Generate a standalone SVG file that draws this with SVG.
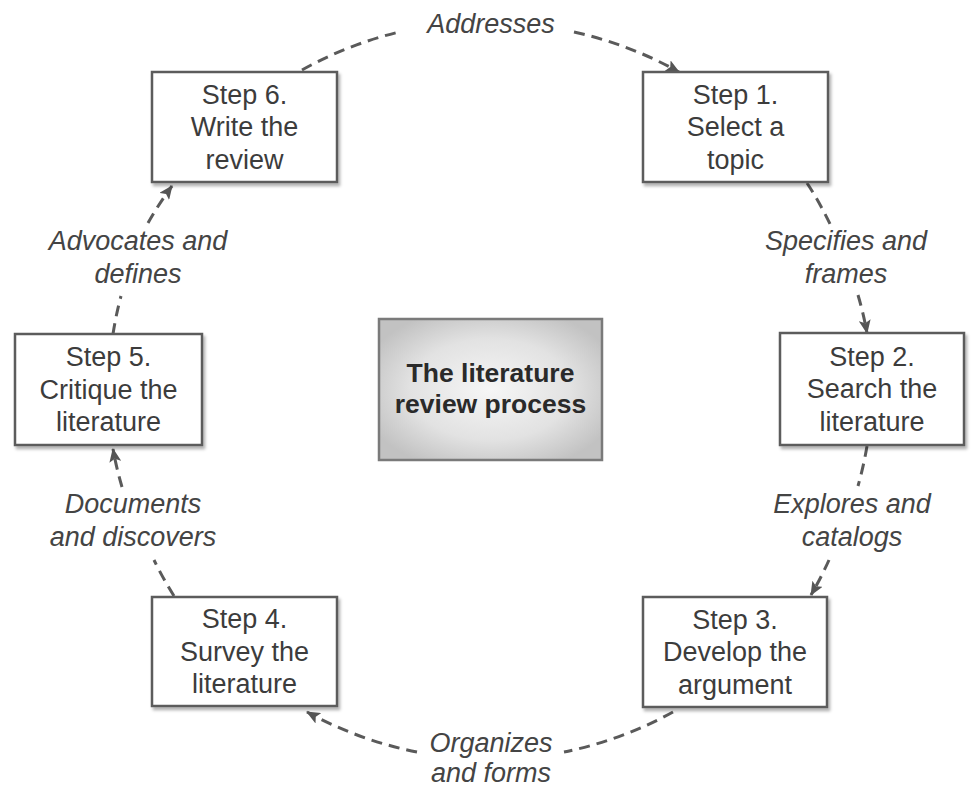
<svg xmlns="http://www.w3.org/2000/svg" width="974" height="787" viewBox="0 0 974 787">
  <style>
    .box { fill: #ffffff; stroke: #5c5c5c; stroke-width: 2.5; filter: url(#shadow); }
    .hub { fill: url(#hubFill); stroke: #7a7a7a; stroke-width: 2.5; }
    .step { font-family: "Liberation Sans", Arial, sans-serif; font-size: 27px; fill: #3c3c3c; text-anchor: middle; }
    .hubText { font-family: "Liberation Sans", Arial, sans-serif; font-size: 26.5px; font-weight: bold; fill: #2a2a2a; text-anchor: middle; }
    .label { font-family: "Liberation Sans", Arial, sans-serif; font-size: 27px; font-style: italic; fill: #444444; text-anchor: middle; }
    .link { fill: none; stroke: #5a5a5a; stroke-width: 3; stroke-dasharray: 11 7; }
    .head { marker-end: url(#arrow); }
  </style>
  <defs>
    <radialGradient id="hubFill" cx="50%" cy="50%" r="60%">
      <stop offset="0" stop-color="#f6f6f6"/>
      <stop offset="0.6" stop-color="#e2e2e2"/>
      <stop offset="1" stop-color="#c2c2c2"/>
    </radialGradient>
    <filter id="shadow" x="-10%" y="-10%" width="125%" height="130%">
      <feDropShadow dx="2" dy="3" stdDeviation="1.5" flood-color="#000000" flood-opacity="0.3"/>
    </filter>
    <marker id="arrow" viewBox="0 0 14 12" refX="13" refY="6" markerWidth="14" markerHeight="12" markerUnits="userSpaceOnUse" orient="auto">
      <path d="M0,0 L14,6 L0,12 L3,6 z" fill="#555555"/>
    </marker>
  </defs>

  <rect width="974" height="787" fill="#ffffff"/>

  <!-- connectors: dashed arcs around the cycle -->
  <g id="connectors">
    <path class="link" d="M302,70 A378,368 0 0 1 399,32"/>
    <path class="link head" d="M574,32 A378,368 0 0 1 679,72"/>
    <path class="link" d="M807,183 A378,368 0 0 1 830,224"/>
    <path class="link head" d="M858,295 A378,368 0 0 1 867,333"/>
    <path class="link" d="M867,446 A378,368 0 0 1 858,486"/>
    <path class="link head" d="M829,560 A378,368 0 0 1 811,595"/>
    <path class="link" d="M673,712 A378,368 0 0 1 564,752"/>
    <path class="link head" d="M417,752 A378,368 0 0 1 307,712"/>
    <path class="link" d="M174,596 A378,368 0 0 1 154,560"/>
    <path class="link head" d="M122,487 A378,368 0 0 1 113,449"/>
    <path class="link" d="M113,334 A378,368 0 0 1 121,296"/>
    <path class="link head" d="M148,223 A378,368 0 0 1 172,186"/>
  </g>

  <!-- connector labels -->
  <g id="labels">
    <text class="label" x="491" y="33">Addresses</text>
    <text class="label" x="846" y="250">Specifies and</text>
    <text class="label" x="846" y="283">frames</text>
    <text class="label" x="852" y="513">Explores and</text>
    <text class="label" x="852" y="546">catalogs</text>
    <text class="label" x="491" y="752">Organizes</text>
    <text class="label" x="491" y="782">and forms</text>
    <text class="label" x="133" y="513">Documents</text>
    <text class="label" x="133" y="546">and discovers</text>
    <text class="label" x="138" y="250">Advocates and</text>
    <text class="label" x="138" y="283">defines</text>
  </g>

  <g id="hub">
    <rect class="hub" x="379" y="319" width="223" height="141"/>
    <text class="hubText" x="490.5" y="382">The literature</text>
    <text class="hubText" x="490.5" y="413">review process</text>
  </g>

  <g id="step1">
    <rect class="box" x="643" y="72" width="185" height="110"/>
    <text class="step" x="735.5" y="103.5">Step 1.</text>
    <text class="step" x="735.5" y="136">Select a</text>
    <text class="step" x="735.5" y="168.5">topic</text>
  </g>

  <g id="step2">
    <rect class="box" x="780" y="333" width="184" height="112"/>
    <text class="step" x="872" y="365.5">Step 2.</text>
    <text class="step" x="872" y="398">Search the</text>
    <text class="step" x="872" y="430.5">literature</text>
  </g>

  <g id="step3">
    <rect class="box" x="643" y="597" width="184" height="110"/>
    <text class="step" x="735" y="628.5">Step 3.</text>
    <text class="step" x="735" y="661">Develop the</text>
    <text class="step" x="735" y="693.5">argument</text>
  </g>

  <g id="step4">
    <rect class="box" x="152" y="597" width="185" height="109"/>
    <text class="step" x="244.5" y="628">Step 4.</text>
    <text class="step" x="244.5" y="660.5">Survey the</text>
    <text class="step" x="244.5" y="693">literature</text>
  </g>

  <g id="step5">
    <rect class="box" x="15" y="334" width="187" height="111"/>
    <text class="step" x="108.5" y="366">Step 5.</text>
    <text class="step" x="108.5" y="398.5">Critique the</text>
    <text class="step" x="108.5" y="431">literature</text>
  </g>

  <g id="step6">
    <rect class="box" x="152" y="72" width="185" height="110"/>
    <text class="step" x="244.5" y="103.5">Step 6.</text>
    <text class="step" x="244.5" y="136">Write the</text>
    <text class="step" x="244.5" y="168.5">review</text>
  </g>
</svg>
